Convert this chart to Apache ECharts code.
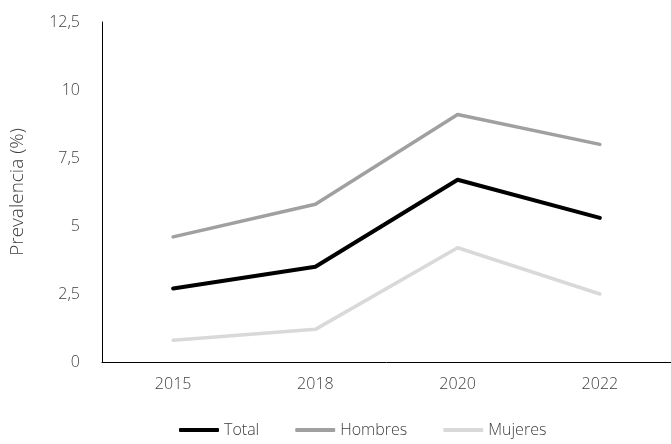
<!DOCTYPE html>
<html>
<head>
<meta charset="utf-8">
<script src="https://cdn.jsdelivr.net/npm/echarts@6/dist/echarts.min.js"></script>
<style>
  html, body { margin: 0; padding: 0; background: #fff; }
  #chart { width: 671px; height: 444px; }
</style>
</head>
<body>
<div id="chart"></div>
<script>
// Prevalence by year, total and by sex (%)
const years = ['2015', '2018', '2020', '2022'];
const total = [2.7, 3.5, 6.7, 5.3];
const hombres = [4.6, 5.8, 9.1, 8.0];
const mujeres = [0.8, 1.2, 4.2, 2.5];
const yTicks = [0, 2.5, 5, 7.5, 10, 12.5];

const FONT = '"Open Sans", "Noto Sans", sans-serif';
const TEXT = '#404040';
const WEIGHT = 300;

const chart = echarts.init(document.getElementById('chart'), null, { renderer: 'canvas' });

function lineSeries(name, data, color, width) {
  return {
    name: name,
    type: 'line',
    data: data,
    symbol: 'none',
    lineStyle: { color: color, width: width, cap: 'round', join: 'round' },
    itemStyle: { color: color },
    emphasis: { disabled: true },
    animation: false
  };
}

chart.setOption({
  animation: false,
  grid: { left: 101, top: 22, width: 576, bottom: 82 },
  legend: {
    bottom: 1,
    left: 174,
    icon: 'roundRect',
    itemWidth: 40,
    itemHeight: 4,
    itemGap: 36,
    textStyle: { fontFamily: FONT, fontSize: 16, color: TEXT, fontWeight: WEIGHT },
    data: ['Total', 'Hombres', 'Mujeres']
  },
  xAxis: {
    type: 'category',
    data: years,
    boundaryGap: true,
    axisLine: { show: true, lineStyle: { color: '#000', width: 1 } },
    axisTick: { show: false },
    axisLabel: { fontFamily: FONT, fontSize: 16, color: TEXT, margin: 14, fontWeight: WEIGHT }
  },
  yAxis: {
    type: 'value',
    min: yTicks[0],
    max: yTicks[yTicks.length - 1],
    interval: 2.5,
    name: 'Prevalencia (%)',
    nameLocation: 'middle',
    nameRotate: 90,
    nameGap: 75,
    nameTextStyle: { fontFamily: FONT, fontSize: 19, color: TEXT, fontWeight: WEIGHT },
    splitLine: { show: false },
    axisTick: { show: false },
    axisLine: { show: true, lineStyle: { color: '#000', width: 1 } },
    axisLabel: {
      fontFamily: FONT, fontSize: 16, color: TEXT, margin: 22, fontWeight: WEIGHT,
      formatter: v => String(v).replace('.', ',')
    }
  },
  series: [
    lineSeries('Total', total, '#000000', 4),
    lineSeries('Hombres', hombres, '#a0a0a0', 3.5),
    lineSeries('Mujeres', mujeres, '#d9d9d9', 3.5)
  ]
});
</script>
</body>
</html>
